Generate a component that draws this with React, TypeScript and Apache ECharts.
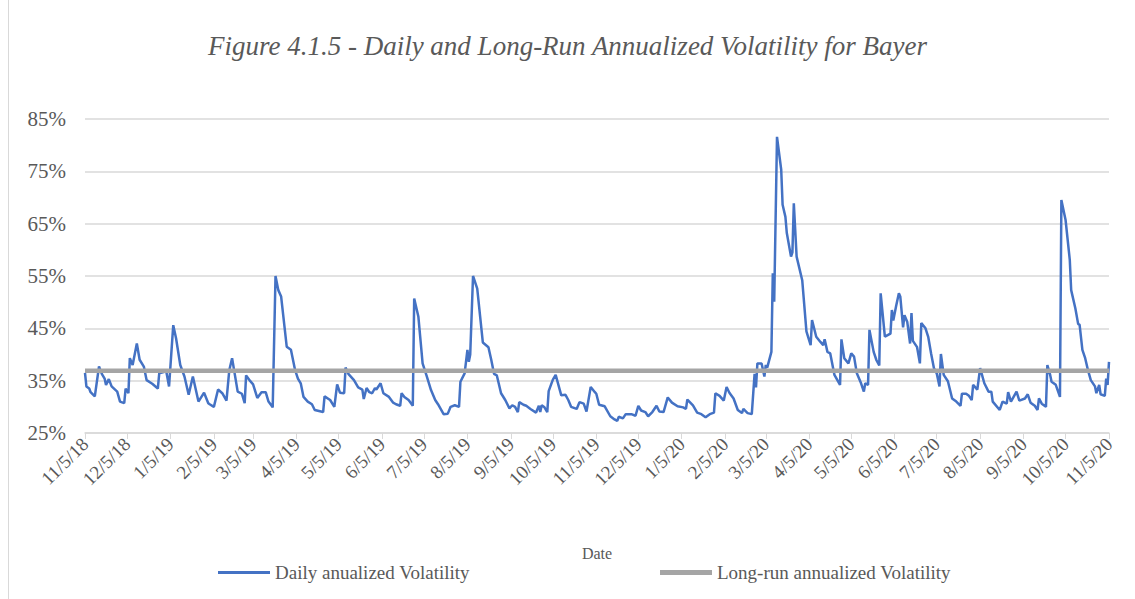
import React, { useEffect, useRef } from "react";
import * as echarts from "echarts";

const titleText = "Figure 4.1.5 - Daily and Long-Run Annualized Volatility for Bayer";
const seriesNames = ["Daily anualized Volatility", "Long-run annualized Volatility"];
const xAxisTitle = "Date";
const startDate = "2018-11-05";
const endDate = "2020-11-05";
const yTicks = [25, 35, 45, 55, 65, 75, 85];
const longRunVolatility = 36.9;

// Daily annualized volatility (%)
const vol2018: [string, number][] = [
  ["2018-11-05", 36.5], ["2018-11-06", 33.9], ["2018-11-08", 33.5], ["2018-11-09", 32.8],
  ["2018-11-12", 32.0], ["2018-11-15", 37.7], ["2018-11-17", 36.3], ["2018-11-19", 35.4],
  ["2018-11-20", 34.2], ["2018-11-22", 35.3], ["2018-11-24", 33.9], ["2018-11-28", 32.9],
  ["2018-11-30", 31.0], ["2018-12-03", 30.7], ["2018-12-04", 33.5], ["2018-12-06", 32.6],
  ["2018-12-07", 39.3], ["2018-12-09", 38.0], ["2018-12-12", 42.1], ["2018-12-14", 39.0],
  ["2018-12-17", 37.7], ["2018-12-19", 35.1], ["2018-12-23", 34.4], ["2018-12-27", 33.5],
  ["2018-12-28", 36.4],
];
const vol2019: [string, number][] = [
  ["2019-01-02", 36.8], ["2019-01-04", 33.9], ["2019-01-07", 45.6], ["2019-01-09", 43.1],
  ["2019-01-12", 38.0], ["2019-01-15", 35.8], ["2019-01-18", 32.3], ["2019-01-21", 35.8],
  ["2019-01-25", 31.0], ["2019-01-29", 32.7], ["2019-02-01", 30.7], ["2019-02-02", 30.5],
  ["2019-02-05", 30.0], ["2019-02-08", 33.3], ["2019-02-11", 32.6], ["2019-02-14", 31.2],
  ["2019-02-16", 37.0], ["2019-02-18", 39.3], ["2019-02-20", 36.1], ["2019-02-22", 32.9],
  ["2019-02-25", 32.5], ["2019-02-27", 30.7], ["2019-02-28", 36.0], ["2019-03-03", 34.9],
  ["2019-03-05", 34.3], ["2019-03-08", 31.7], ["2019-03-11", 32.8], ["2019-03-14", 32.8],
  ["2019-03-16", 31.0], ["2019-03-19", 29.9], ["2019-03-21", 55.0], ["2019-03-23", 52.3],
  ["2019-03-25", 51.1], ["2019-03-29", 41.5], ["2019-04-01", 40.9], ["2019-04-04", 37.0],
  ["2019-04-06", 35.4], ["2019-04-08", 34.5], ["2019-04-10", 31.9], ["2019-04-13", 31.0],
  ["2019-04-16", 30.5], ["2019-04-18", 29.4], ["2019-04-24", 29.0], ["2019-04-25", 32.0],
  ["2019-04-29", 31.3], ["2019-05-02", 30.0], ["2019-05-04", 34.3], ["2019-05-06", 32.7],
  ["2019-05-09", 32.6], ["2019-05-10", 37.5], ["2019-05-12", 36.3], ["2019-05-16", 35.1],
  ["2019-05-19", 33.7], ["2019-05-22", 33.3], ["2019-05-23", 31.5], ["2019-05-25", 33.6],
  ["2019-05-27", 32.8], ["2019-05-29", 32.6], ["2019-05-31", 33.6], ["2019-06-01", 33.3],
  ["2019-06-04", 34.5], ["2019-06-06", 32.6], ["2019-06-10", 31.9], ["2019-06-13", 30.8],
  ["2019-06-15", 30.5], ["2019-06-18", 30.2], ["2019-06-19", 32.6], ["2019-06-21", 31.9],
  ["2019-06-24", 31.3], ["2019-06-27", 30.2], ["2019-06-28", 50.7], ["2019-07-01", 47.2],
  ["2019-07-04", 38.3], ["2019-07-07", 35.8], ["2019-07-10", 33.2], ["2019-07-13", 31.3],
  ["2019-07-15", 30.5], ["2019-07-19", 28.6], ["2019-07-22", 28.7], ["2019-07-24", 30.0],
  ["2019-07-27", 30.3], ["2019-07-30", 30.0], ["2019-07-31", 34.8], ["2019-08-03", 36.4],
  ["2019-08-05", 40.9], ["2019-08-06", 38.6], ["2019-08-07", 40.0], ["2019-08-09", 55.0],
  ["2019-08-12", 52.6], ["2019-08-16", 42.3], ["2019-08-20", 41.4], ["2019-08-22", 39.0],
  ["2019-08-24", 36.3], ["2019-08-26", 36.0], ["2019-08-29", 32.6], ["2019-09-01", 31.3],
  ["2019-09-04", 29.7], ["2019-09-06", 30.3], ["2019-09-08", 30.0], ["2019-09-10", 29.0],
  ["2019-09-11", 30.9], ["2019-09-14", 30.4], ["2019-09-16", 30.2], ["2019-09-19", 29.6],
  ["2019-09-23", 28.9], ["2019-09-25", 30.2], ["2019-09-26", 29.0], ["2019-09-27", 30.3],
  ["2019-09-29", 29.9], ["2019-10-01", 29.0], ["2019-10-02", 33.0], ["2019-10-05", 35.2],
  ["2019-10-07", 36.1], ["2019-10-11", 32.2], ["2019-10-14", 32.3], ["2019-10-16", 31.3],
  ["2019-10-18", 30.0], ["2019-10-22", 29.6], ["2019-10-24", 30.9], ["2019-10-27", 30.6],
  ["2019-10-29", 29.1], ["2019-11-01", 33.8], ["2019-11-04", 32.8], ["2019-11-05", 32.5],
  ["2019-11-07", 30.4], ["2019-11-11", 30.1], ["2019-11-15", 28.2], ["2019-11-18", 27.6],
  ["2019-11-20", 27.3], ["2019-11-21", 28.1], ["2019-11-24", 27.8], ["2019-11-26", 28.6],
  ["2019-11-30", 28.6], ["2019-12-03", 28.3], ["2019-12-05", 30.2], ["2019-12-07", 29.3],
  ["2019-12-10", 29.0], ["2019-12-12", 28.2], ["2019-12-15", 29.0], ["2019-12-18", 30.2],
  ["2019-12-20", 29.1], ["2019-12-23", 29.0], ["2019-12-26", 31.8], ["2019-12-29", 30.8],
];
const vol2020: [string, number][] = [
  ["2020-01-02", 30.1], ["2020-01-06", 29.9], ["2020-01-08", 29.6], ["2020-01-09", 31.4],
  ["2020-01-13", 30.3], ["2020-01-16", 28.9], ["2020-01-19", 28.6], ["2020-01-22", 28.0],
  ["2020-01-25", 28.6], ["2020-01-28", 28.9], ["2020-01-29", 32.6], ["2020-02-01", 32.1],
  ["2020-02-04", 31.2], ["2020-02-06", 33.8], ["2020-02-08", 32.7], ["2020-02-11", 31.6],
  ["2020-02-14", 29.4], ["2020-02-17", 28.8], ["2020-02-18", 29.6], ["2020-02-21", 28.8],
  ["2020-02-24", 28.6], ["2020-02-26", 36.3], ["2020-02-27", 33.7], ["2020-02-28", 38.3],
  ["2020-03-02", 38.3], ["2020-03-04", 35.8], ["2020-03-05", 38.0], ["2020-03-06", 37.5],
  ["2020-03-09", 40.5], ["2020-03-10", 55.5], ["2020-03-11", 50.1], ["2020-03-13", 81.6],
  ["2020-03-16", 75.3], ["2020-03-17", 68.6], ["2020-03-19", 66.3], ["2020-03-20", 63.2],
  ["2020-03-23", 58.7], ["2020-03-24", 59.5], ["2020-03-25", 68.9], ["2020-03-27", 58.7],
  ["2020-03-31", 54.2], ["2020-04-03", 44.4], ["2020-04-06", 41.8], ["2020-04-07", 46.6],
  ["2020-04-10", 43.4], ["2020-04-13", 42.4], ["2020-04-15", 41.8], ["2020-04-16", 42.9],
  ["2020-04-18", 40.5], ["2020-04-20", 40.2], ["2020-04-23", 36.1], ["2020-04-27", 34.2],
  ["2020-04-28", 42.9], ["2020-04-30", 39.3], ["2020-05-03", 38.3], ["2020-05-05", 40.2],
  ["2020-05-07", 39.6], ["2020-05-09", 36.4], ["2020-05-12", 34.5], ["2020-05-14", 32.9],
  ["2020-05-15", 34.5], ["2020-05-17", 34.2], ["2020-05-18", 44.7], ["2020-05-21", 40.5],
  ["2020-05-23", 38.9], ["2020-05-25", 37.9], ["2020-05-26", 51.7], ["2020-05-29", 43.4],
  ["2020-06-02", 44.0], ["2020-06-03", 48.5], ["2020-06-04", 46.5], ["2020-06-06", 49.2],
  ["2020-06-08", 51.7], ["2020-06-09", 51.1], ["2020-06-11", 45.2], ["2020-06-12", 47.5],
  ["2020-06-14", 46.2], ["2020-06-16", 42.1], ["2020-06-17", 47.9], ["2020-06-18", 42.6],
  ["2020-06-21", 41.4], ["2020-06-23", 38.3], ["2020-06-24", 46.0], ["2020-06-27", 45.0],
  ["2020-06-29", 43.3], ["2020-07-01", 40.2], ["2020-07-03", 37.4], ["2020-07-05", 36.4],
  ["2020-07-07", 33.9], ["2020-07-08", 40.1], ["2020-07-10", 36.1], ["2020-07-13", 34.9],
  ["2020-07-16", 31.6], ["2020-07-19", 31.0], ["2020-07-22", 30.2], ["2020-07-23", 32.5],
  ["2020-07-26", 32.5], ["2020-07-28", 32.1], ["2020-07-30", 31.3], ["2020-07-31", 34.2],
  ["2020-08-03", 33.3], ["2020-08-05", 37.4], ["2020-08-08", 34.5], ["2020-08-11", 32.9],
  ["2020-08-13", 32.9], ["2020-08-14", 31.0], ["2020-08-19", 29.4], ["2020-08-21", 31.0],
  ["2020-08-24", 30.6], ["2020-08-25", 32.8], ["2020-08-27", 31.0], ["2020-08-31", 32.9],
  ["2020-09-02", 31.2], ["2020-09-06", 31.6], ["2020-09-08", 32.4], ["2020-09-10", 30.8],
  ["2020-09-13", 30.2], ["2020-09-15", 29.4], ["2020-09-16", 31.6], ["2020-09-18", 30.6],
  ["2020-09-21", 30.0], ["2020-09-22", 38.0], ["2020-09-24", 36.1], ["2020-09-25", 34.8],
  ["2020-09-28", 34.2], ["2020-10-01", 31.9], ["2020-10-02", 69.5], ["2020-10-05", 65.7],
  ["2020-10-08", 58.1], ["2020-10-09", 52.3], ["2020-10-12", 48.8], ["2020-10-14", 45.8],
  ["2020-10-15", 45.7], ["2020-10-17", 40.9], ["2020-10-19", 39.3], ["2020-10-21", 37.0],
  ["2020-10-23", 35.1], ["2020-10-26", 33.9], ["2020-10-27", 32.6], ["2020-10-29", 34.2],
  ["2020-10-30", 32.4], ["2020-11-02", 32.1], ["2020-11-03", 35.4], ["2020-11-04", 34.2],
  ["2020-11-05", 38.6],
];

const FONT = "Liberation Serif";
const TEXT = "#595959";
const GRID = "#D9D9D9";
const BLUE = "#4472C4";
const GRAY = "#A5A5A5";

function buildDays(start: string, end: string): string[] {
  const out: string[] = [];
  const d = new Date(start + "T00:00:00Z");
  const e = new Date(end + "T00:00:00Z");
  while (d.getTime() <= e.getTime()) {
    out.push(d.toISOString().slice(0, 10));
    d.setUTCDate(d.getUTCDate() + 1);
  }
  return out;
}

function fmtDate(s: string): string {
  const [y, m, d] = s.split("-");
  return `${parseInt(m, 10)}/${parseInt(d, 10)}/${y.slice(2)}`;
}

export default function App() {
  const ref = useRef<HTMLDivElement>(null);
  useEffect(() => {
    if (!ref.current) return;
    const chart = echarts.init(ref.current, null, { renderer: "svg" });
    const days = buildDays(startDate, endDate);
    const idx: Record<string, number> = {};
    days.forEach((d, i) => (idx[d] = i));
    const daily = [...vol2018, ...vol2019, ...vol2020].map(([d, v]) => [idx[d], v]);
    const longRun = [[0, longRunVolatility], [days.length - 1, longRunVolatility]];
    const isTick = (i: number, v: string) => v.endsWith("-05");

    chart.setOption({
      animation: false,
      backgroundColor: "#ffffff",
      title: {
        text: titleText,
        left: "center",
        top: 27,
        textStyle: { fontFamily: FONT, fontStyle: "italic", fontWeight: "normal", fontSize: 27, color: TEXT },
      },
      grid: { left: 85, right: 26, top: 119, bottom: 166, containLabel: false },
      legend: [
        {
          data: [seriesNames[0]],
          left: 218,
          top: 563,
          padding: 0,
          icon: "rect",
          itemWidth: 52,
          itemHeight: 3,
          textStyle: { fontFamily: FONT, fontSize: 19, color: TEXT },
        },
        {
          data: [seriesNames[1]],
          left: 660,
          top: 563,
          padding: 0,
          icon: "rect",
          itemWidth: 52,
          itemHeight: 5,
          textStyle: { fontFamily: FONT, fontSize: 19, color: TEXT },
        },
      ],
      xAxis: {
        type: "category",
        data: days,
        boundaryGap: false,
        name: xAxisTitle,
        nameLocation: "middle",
        nameGap: 112,
        nameTextStyle: { fontFamily: FONT, fontSize: 16, color: TEXT },
        axisLine: { lineStyle: { color: GRID, width: 1.5 } },
        axisTick: { show: true, interval: isTick, length: 6, lineStyle: { color: GRID } },
        axisLabel: {
          interval: isTick,
          rotate: 45,
          margin: 8,
          formatter: (v: string) => fmtDate(v),
          fontFamily: FONT,
          fontSize: 19,
          color: TEXT,
        },
        splitLine: { show: false },
      },
      yAxis: {
        type: "value",
        min: yTicks[0],
        max: yTicks[yTicks.length - 1],
        axisLine: { show: false },
        axisTick: { show: false, customValues: yTicks },
        axisLabel: {
          customValues: yTicks,
          formatter: (v: number) => `${v}%`,
          fontFamily: FONT,
          fontSize: 21,
          color: TEXT,
          margin: 19,
        },
        splitLine: { show: true, lineStyle: { color: GRID, width: 1.5 } },
      },
      graphic: [
        { type: "line", shape: { x1: 8.5, y1: 0, x2: 8.5, y2: 599 }, style: { stroke: GRID, lineWidth: 1 } },
      ],
      series: [
        {
          name: seriesNames[0],
          type: "line",
          data: daily,
          symbol: "none",
          lineStyle: { color: BLUE, width: 2.5 },
          itemStyle: { color: BLUE },
          z: 2,
        },
        {
          name: seriesNames[1],
          type: "line",
          data: longRun,
          symbol: "none",
          lineStyle: { color: GRAY, width: 4.5 },
          itemStyle: { color: GRAY },
          z: 3,
        },
      ],
    });
    return () => chart.dispose();
  }, []);
  return (
    <div
      ref={ref}
      style={{ position: "fixed", left: 0, top: 0, width: 1135, height: 599, background: "#fff" }}
    />
  );
}
